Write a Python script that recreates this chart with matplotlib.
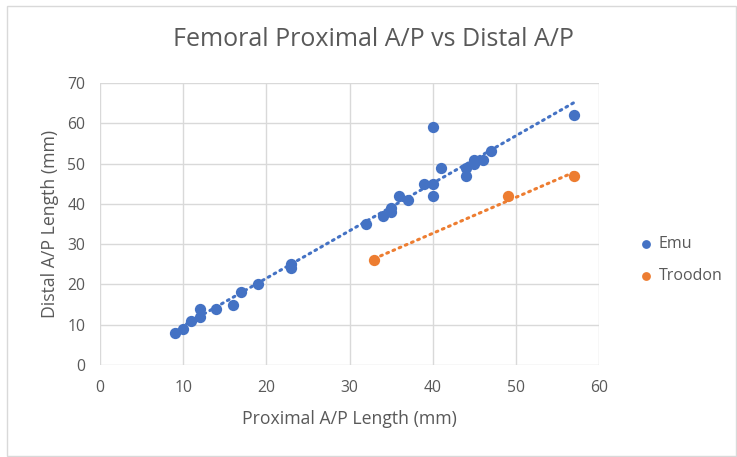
import matplotlib.pyplot as plt
import numpy as np
from matplotlib.patches import Rectangle

# Emu femur measurements (mm)
emu_prox = [9, 10, 11, 12, 12, 14, 16, 17, 19, 23, 23, 32, 34, 35, 35, 36, 37,
            39, 40, 40, 40, 41, 44, 44, 45, 45, 46, 47, 57]
emu_dist = [8, 9, 11, 12, 14, 14, 15, 18, 20, 24, 25, 35, 37, 38, 39, 42, 41,
            45, 45, 42, 59, 49, 49, 47, 50, 51, 51, 53, 62]

# Troodon femur measurements (mm)
troodon_prox = [33, 49, 57]
troodon_dist = [26, 42, 47]

x_ticks = [0, 10, 20, 30, 40, 50, 60]
y_ticks = [0, 10, 20, 30, 40, 50, 60, 70]

EMU_C = '#4472C4'
TRO_C = '#ED7D31'
TXT_C = '#595959'
GRID_C = '#d9d9d9'

plt.rcParams['font.family'] = ['Open Sans', 'DejaVu Sans']

fig = plt.figure(figsize=(7.37, 4.57), dpi=100)
# outer chart border
fig.patches.append(Rectangle((7 / 737, 1 / 457), 729 / 737, 450 / 457,
                             transform=fig.transFigure, fill=False,
                             edgecolor=GRID_C, linewidth=1))
ax = fig.add_axes([100 / 737, 1 - 365 / 457, 499 / 737, 282 / 457])

# linear trendlines like the spreadsheet
for xs, ys, c in [(emu_prox, emu_dist, EMU_C), (troodon_prox, troodon_dist, TRO_C)]:
    m, b = np.polyfit(xs, ys, 1)
    lx = np.array([min(xs), max(xs)])
    ax.plot(lx, m * lx + b, color=c, linewidth=2.2, linestyle=(0, (0.6, 1.6)),
            dash_capstyle='round', zorder=2)

ax.scatter(emu_prox, emu_dist, s=66, color=EMU_C, label='Emu', zorder=3, linewidths=0)
ax.scatter(troodon_prox, troodon_dist, s=66, color=TRO_C, label='Troodon', zorder=3, linewidths=0)

ax.set_xlim(0, 60)
ax.set_ylim(0, 70)
ax.set_xticks(x_ticks)
ax.set_yticks(y_ticks)
ax.grid(True, color=GRID_C, linewidth=1)
ax.set_axisbelow(True)
for s in ax.spines.values():
    s.set_visible(False)
ax.tick_params(length=0, colors=TXT_C, labelsize=11.3)
ax.tick_params(axis='x', pad=11)
ax.tick_params(axis='y', pad=10.5)

ax.set_xlabel('Proximal A/P Length (mm)', color=TXT_C, fontsize=12.7, labelpad=10)
ax.set_ylabel('Distal A/P Length (mm)', color=TXT_C, fontsize=12.7, labelpad=6)
fig.text(373 / 737, 1 - 40 / 457, 'Femoral Proximal A/P vs Distal A/P',
         ha='center', va='center', color=TXT_C, fontsize=18)

leg = ax.legend(loc='center left', bbox_to_anchor=(1.081, 0.373), frameon=False,
                fontsize=11.5, labelcolor=TXT_C, markerscale=0.78, handlelength=0.8,
                handletextpad=0.4, labelspacing=1.0, borderpad=0, borderaxespad=0)

fig.savefig('out.png', dpi=100)
